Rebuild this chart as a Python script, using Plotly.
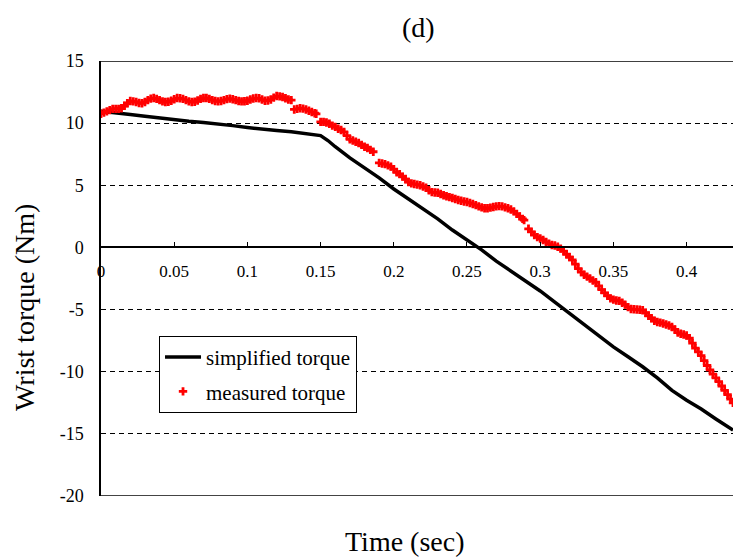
import plotly.graph_objects as go

# ---- data ----
simp_t = [0.0, 0.01, 0.02, 0.03, 0.04, 0.05, 0.06, 0.07, 0.08, 0.09, 0.10, 0.11, 0.12, 0.13, 0.14, 0.15,
          0.155, 0.16, 0.17, 0.18, 0.19, 0.20, 0.21, 0.22, 0.23, 0.24, 0.25, 0.26, 0.27, 0.28, 0.29,
          0.30, 0.31, 0.32, 0.33, 0.34, 0.35, 0.36, 0.37, 0.38, 0.39, 0.40, 0.41, 0.42, 0.43, 0.4317]
simp_v = [10.95, 10.85, 10.7, 10.55, 10.4, 10.25, 10.15, 10.05, 9.95, 9.8, 9.65, 9.5, 9.4, 9.3, 9.15, 9.0,
          8.6, 8.1, 7.2, 6.4, 5.6, 4.7, 3.9, 3.1, 2.3, 1.4, 0.6, -0.2, -1.1, -1.9, -2.7,
          -3.5, -4.4, -5.3, -6.2, -7.1, -8.0, -8.8, -9.6, -10.5, -11.5, -12.3, -13.0, -13.8, -14.6, -14.7]

meas_t = [0.000, 0.002, 0.004, 0.006, 0.008, 0.010, 0.012, 0.014, 0.016, 0.018,
          0.020, 0.022, 0.024, 0.026, 0.028, 0.030, 0.032, 0.034, 0.036, 0.038,
          0.040, 0.042, 0.044, 0.046, 0.048, 0.050, 0.052, 0.054, 0.056, 0.058,
          0.060, 0.062, 0.064, 0.066, 0.068, 0.070, 0.072, 0.074, 0.076, 0.078,
          0.080, 0.082, 0.084, 0.086, 0.088, 0.090, 0.092, 0.094, 0.096, 0.098,
          0.100, 0.102, 0.104, 0.106, 0.108, 0.110, 0.112, 0.114, 0.116, 0.118,
          0.120, 0.122, 0.124, 0.126, 0.128, 0.130,
          0.132, 0.134, 0.136, 0.138, 0.140, 0.142, 0.144, 0.146, 0.147, 0.150,
          0.152, 0.154, 0.156, 0.158, 0.160, 0.162, 0.164, 0.166, 0.168, 0.170,
          0.172, 0.174, 0.176, 0.178, 0.180, 0.182, 0.184, 0.186,
          0.190, 0.192, 0.194, 0.196, 0.198, 0.200, 0.202, 0.204, 0.206, 0.208, 0.210, 0.212,
          0.214, 0.216, 0.218, 0.220, 0.222, 0.224, 0.226, 0.228, 0.230, 0.232,
          0.234, 0.236, 0.238, 0.240, 0.242, 0.244, 0.246, 0.248, 0.250, 0.252,
          0.254, 0.256, 0.258, 0.260, 0.262, 0.264, 0.266, 0.268, 0.270, 0.272,
          0.274, 0.276, 0.278, 0.280, 0.282, 0.284, 0.286, 0.288, 0.289,
          0.292, 0.294, 0.296, 0.298, 0.300, 0.302, 0.304, 0.306, 0.308, 0.310,
          0.312, 0.314, 0.316, 0.318, 0.320, 0.322, 0.324, 0.326, 0.328, 0.330,
          0.332, 0.334, 0.336, 0.338, 0.340, 0.342, 0.344, 0.346, 0.348,
          0.350, 0.352, 0.354, 0.356, 0.358, 0.360, 0.362, 0.364, 0.366, 0.368,
          0.370, 0.372, 0.374, 0.376, 0.378, 0.380, 0.382, 0.384, 0.386, 0.388,
          0.390, 0.392, 0.394, 0.396, 0.398, 0.400, 0.402, 0.404, 0.406, 0.408,
          0.410, 0.412, 0.414, 0.416, 0.418, 0.420, 0.422, 0.424, 0.426, 0.428,
          0.430, 0.4317]
meas_v = [10.76, 10.85, 10.95, 11.05, 11.15, 11.15, 11.15, 11.2, 11.4, 11.6,
          11.78, 11.75, 11.7, 11.62, 11.6, 11.7, 11.85, 11.97, 12.02, 11.95,
          11.85, 11.75, 11.7, 11.72, 11.8, 11.92, 12.02, 12.0, 11.95, 11.85,
          11.75, 11.7, 11.72, 11.82, 11.95, 12.02, 12.02, 11.95, 11.85, 11.78,
          11.75, 11.78, 11.85, 11.93, 11.97, 11.92, 11.85, 11.78, 11.75, 11.76,
          11.8, 11.9, 11.98, 12.02, 12.0, 11.9, 11.8, 11.82, 11.9, 12.05,
          12.18, 12.15, 12.1, 12.0, 11.9, 11.85,
          11.1, 11.15, 11.2, 11.17, 11.1, 11.0, 10.9, 10.8, 10.75, 10.1,
          10.1, 10.05, 9.95, 9.8, 9.7, 9.55, 9.45, 9.3, 9.0, 8.7,
          8.6, 8.5, 8.4, 8.25, 8.1, 8.0, 7.85, 7.7,
          6.8, 6.75, 6.7, 6.6, 6.5, 6.3, 6.05, 5.9, 5.7, 5.5, 5.26, 5.15,
          5.1, 5.05, 5.0, 4.9, 4.8, 4.6, 4.45, 4.42, 4.4, 4.3,
          4.2, 4.12, 4.05, 3.98, 3.9, 3.82, 3.75, 3.7, 3.65, 3.58,
          3.5, 3.4, 3.3, 3.22, 3.15, 3.15, 3.2, 3.25, 3.3, 3.32,
          3.3, 3.22, 3.15, 3.05, 2.9, 2.7, 2.5, 2.3, 2.2,
          1.5, 1.25, 1.0, 0.83, 0.72, 0.6, 0.45, 0.3, 0.2, 0.15,
          0.05, -0.1, -0.3, -0.55, -0.78, -1.0, -1.35, -1.7, -1.98, -2.2,
          -2.35, -2.5, -2.66, -2.8, -3.1, -3.4, -3.65, -3.9, -4.1,
          -4.2, -4.27, -4.3, -4.45, -4.6, -4.8, -4.95, -4.98, -5.0, -5.02,
          -5.05, -5.25, -5.5, -5.7, -5.9, -6.0, -6.05, -6.12, -6.2, -6.28,
          -6.4, -6.6, -6.85, -6.95, -7.0, -7.09, -7.3, -7.7, -8.1, -8.4,
          -8.7, -9.1, -9.5, -9.85, -10.2, -10.5, -10.8, -11.15, -11.5, -11.85,
          -12.2, -12.5]

x_ticks = [0, 0.05, 0.1, 0.15, 0.2, 0.25, 0.3, 0.35, 0.4]
x_labels = ["0", "0.05", "0.1", "0.15", "0.2", "0.25", "0.3", "0.35", "0.4"]
y_ticks = [-20, -15, -10, -5, 0, 5, 10, 15]
y_labels = ["-20", "-15", "-10", "-5", "0", "5", "10", "15"]

FONT = "Liberation Serif, Times New Roman, serif"
XMAX = 0.4317
YMIN, YMAX = -20, 15

fig = go.Figure()
fig.add_trace(go.Scatter(x=simp_t, y=simp_v, mode="lines", name="simplified torque",
                         line=dict(color="black", width=3.5), legendgroup="a"))
fig.add_trace(go.Scatter(x=meas_t, y=meas_v, mode="markers", name="measured torque",
                         marker=dict(color="red", symbol="cross", size=7, line=dict(width=0)),
                         legendgroup="b"))

# frame lines (top and bottom)
fig.add_shape(type="line", xref="paper", yref="y", x0=0, x1=1, y0=YMAX, y1=YMAX,
              line=dict(color="black", width=1.5))
fig.add_shape(type="line", xref="paper", yref="y", x0=0, x1=1, y0=YMIN, y1=YMIN,
              line=dict(color="#444444", width=2))

fig.update_layout(
    width=733, height=557,
    margin=dict(l=101, r=0, t=61, b=61),
    paper_bgcolor="white", plot_bgcolor="white",
    font=dict(family=FONT, color="black"),
    showlegend=True,
    legend=dict(x=0.0918, y=0.368, xanchor="left", yanchor="top",
                bgcolor="white", bordercolor="black", borderwidth=1,
                font=dict(family=FONT, size=21, color="black"),
                traceorder="grouped", tracegroupgap=4, itemwidth=36),
    xaxis=dict(range=[0, XMAX], anchor="free", position=(0 - YMIN) / (YMAX - YMIN),
               tickvals=x_ticks, ticktext=x_labels, ticks="inside", ticklen=5,
               tickcolor="black", showline=True, linecolor="black", linewidth=1.5,
               showgrid=False, zeroline=False, ticklabelstandoff=8,
               tickfont=dict(family=FONT, size=17, color="black")),
    yaxis=dict(range=[YMIN, YMAX], tickvals=y_ticks, ticktext=y_labels, showgrid=True,
               gridcolor="black", griddash="5px,4px", gridwidth=1, showline=True,
               linecolor="black", linewidth=1.5, zeroline=False, ticks="",
               ticklabelstandoff=12,
               tickfont=dict(family=FONT, size=18, color="black")),
    annotations=[
        dict(text="(d)", xref="paper", yref="paper", x=0.5016, y=1.078,
             xanchor="center", yanchor="middle", showarrow=False,
             font=dict(family=FONT, size=28, color="black")),
        dict(text="Time (sec)", xref="paper", yref="paper", x=0.481, y=-0.1057,
             xanchor="center", yanchor="middle", showarrow=False,
             font=dict(family=FONT, size=28, color="black")),
        dict(text="Wrist torque (Nm)", xref="paper", yref="paper", x=-0.1203, y=0.4345,
             xanchor="center", yanchor="middle", showarrow=False, textangle=-90,
             font=dict(family=FONT, size=28, color="black")),
    ],
)

fig.write_html("out.html", config={"displayModeBar": False},
               post_script="document.body.style.margin='0';document.body.style.overflow='hidden';")
